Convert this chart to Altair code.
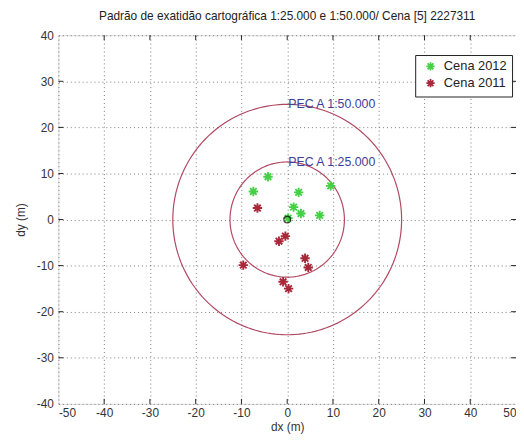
import altair as alt
import pandas as pd
import numpy as np

# ---- data ----
series = ["Cena 2012", "Cena 2011"]
g_dx = [-4.2, -7.4, 2.5, 9.5, 1.4, 3.0, 7.1, 0.2]
g_dy = [9.3, 6.1, 5.9, 7.3, 2.7, 1.3, 0.9, 0.3]
r_dx = [-6.5, -0.4, -1.8, -9.6, 3.9, 4.6, -0.9, 0.3]
r_dy = [2.5, -3.6, -4.7, -9.9, -8.4, -10.4, -13.5, -15.0]
radii = [12.5, 25.0]
pec_labels = ["PEC A 1:25.000", "PEC A 1:50.000"]
x_ticks = [-50, -40, -30, -20, -10, 0, 10, 20, 30, 40, 50]
y_ticks = [-40, -30, -20, -10, 0, 10, 20, 30, 40]
title = "Padrão de exatidão cartográfica 1:25.000 e 1:50.000/ Cena [5] 2227311"

GREEN = "#45d045"
RED = "#a8283a"
CIRC = "#b04a62"
TXT = "#3e3e96"
FONT = "Liberation Sans"

pts = pd.DataFrame({
    "dx": g_dx + r_dx,
    "dy": g_dy + r_dy,
    "serie": [series[0]] * len(g_dx) + [series[1]] * len(r_dx),
})

ang = np.arange(0, 362, 2)
circ = pd.DataFrame([
    {"r": r, "a": a, "cx": r * np.cos(np.radians(a)), "cy": r * np.sin(np.radians(a))}
    for r in radii for a in ang
])
labels = pd.DataFrame({"r": radii, "label": pec_labels, "x0": [0.0, 0.0]})
origin = pd.DataFrame({"dx": [0.0], "dy": [0.0]})
xt = pd.DataFrame({"v": x_ticks[1:-1]})
yt = pd.DataFrame({"v": y_ticks[1:-1]})

W, H = 463, 373

xs = alt.Scale(domain=[-50, 50], nice=False, zero=False)
ys = alt.Scale(domain=[-40, 40], nice=False, zero=False)

xaxis = alt.Axis(values=x_ticks, title="dx (m)", grid=True, gridDash=[1, 3],
                 gridColor="#444", gridOpacity=0.7, ticks=False, domain=False,
                 labelExpr="'' + datum.value",
                 labelFont=FONT, labelFontSize=12, labelColor="#333",
                 labelPadding=4, titleFont=FONT, titleFontSize=12,
                 titleFontWeight="normal", titleColor="#333", titlePadding=3)
yaxis = alt.Axis(values=y_ticks, title="dy (m)", grid=True, gridDash=[1, 3],
                 gridColor="#444", gridOpacity=0.7, ticks=False, domain=False,
                 labelExpr="'' + datum.value",
                 labelFont=FONT, labelFontSize=12, labelColor="#333",
                 labelPadding=5, titleFont=FONT, titleFontSize=12,
                 titleFontWeight="normal", titleColor="#333", titlePadding=9)

grid = alt.Chart(origin).mark_point(opacity=0).encode(
    x=alt.X("dx:Q", scale=xs, axis=xaxis),
    y=alt.Y("dy:Q", scale=ys, axis=yaxis),
)

circles = alt.Chart(circ).mark_line(color=CIRC, strokeWidth=1.2).encode(
    x=alt.X("cx:Q", scale=xs),
    y=alt.Y("cy:Q", scale=ys),
    detail="r:N",
    order="a:Q",
)

pec = alt.Chart(labels).mark_text(align="left", baseline="middle", dx=1,
                                  font=FONT, fontSize=12.5, color=TXT).encode(
    x=alt.X("x0:Q", scale=xs),
    y=alt.Y("r:Q", scale=ys),
    text="label:N",
)

asterisk = "M-1,0L1,0M0,-1L0,1M-0.7,-0.7L0.7,0.7M-0.7,0.7L0.7,-0.7"

points = alt.Chart(pts).mark_point(filled=False, size=90, strokeWidth=1.9, opacity=1).encode(
    x=alt.X("dx:Q", scale=xs),
    y=alt.Y("dy:Q", scale=ys),
    color=alt.Color("serie:N", scale=alt.Scale(domain=series, range=[GREEN, RED]),
                    legend=alt.Legend(title=None, orient="none", legendX=361, legendY=20,
                                      strokeColor="#222", fillColor="white",
                                      padding=5, labelFont=FONT, labelFontSize=13,
                                      labelColor="#222", symbolSize=70,
                                      symbolStrokeWidth=1.8, rowPadding=0,
                                      symbolOffset=4, labelOffset=7)),
    shape=alt.Shape("serie:N", scale=alt.Scale(domain=series, range=[asterisk, asterisk])),
)

orig = alt.Chart(origin).mark_point(shape="circle", filled=False, size=45,
                                    color="black", strokeWidth=1.3).encode(
    x=alt.X("dx:Q", scale=xs),
    y=alt.Y("dy:Q", scale=ys),
)

tk_top = alt.Chart(xt).mark_rule(color="#222").encode(
    x=alt.X("v:Q", scale=xs), y=alt.value(0), y2=alt.value(5))
tk_bot = alt.Chart(xt).mark_rule(color="#222").encode(
    x=alt.X("v:Q", scale=xs), y=alt.value(H), y2=alt.value(H - 5))
tk_left = alt.Chart(yt).mark_rule(color="#222").encode(
    y=alt.Y("v:Q", scale=ys), x=alt.value(0), x2=alt.value(5))
tk_right = alt.Chart(yt).mark_rule(color="#222").encode(
    y=alt.Y("v:Q", scale=ys), x=alt.value(W), x2=alt.value(W - 5))

chart = alt.layer(grid, circles, pec, tk_top, tk_bot, tk_left, tk_right, points, orig).properties(
    width=W, height=H,
    title=alt.Title(title, font=FONT, fontSize=12, fontWeight="normal",
                    color="#222", offset=6, anchor="middle"),
    padding={"left": 51, "top": 25, "right": 0, "bottom": 34},
    autosize="none",
).configure_view(stroke="#222", strokeWidth=1.2).configure(background="white")

chart.save("out.html", embed_options={"renderer": "svg", "actions": False})
